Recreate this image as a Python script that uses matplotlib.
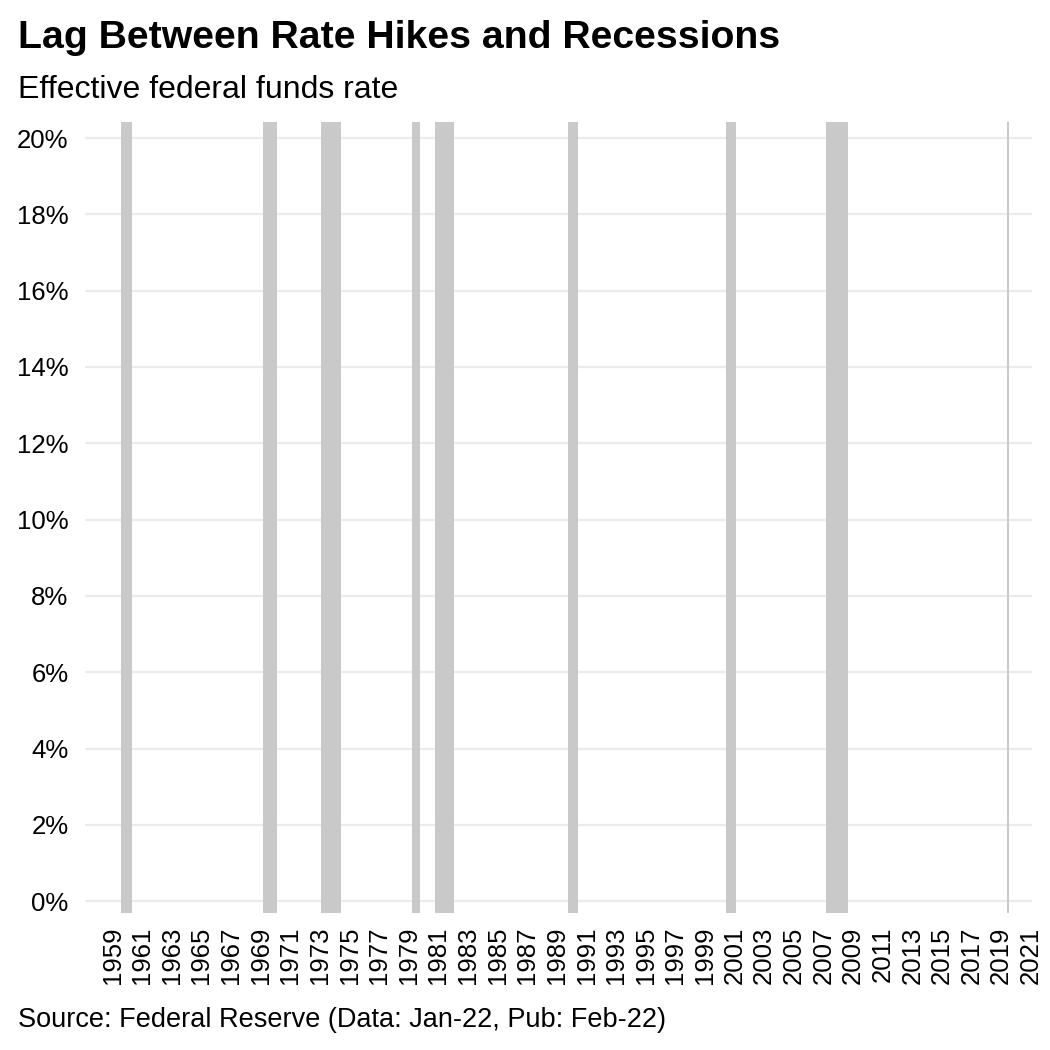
import matplotlib
matplotlib.use("Agg")
import matplotlib.pyplot as plt

plt.rcParams['font.family'] = ['Liberation Sans', 'DejaVu Sans']

# Recession periods (decimal years, NBER dates)
rec_start = [1960.29, 1969.92, 1973.83, 1980.00, 1981.50, 1990.50, 2001.17, 2007.92, 2020.17]
rec_end   = [1961.08, 1970.83, 1975.17, 1980.50, 1982.83, 1991.17, 2001.83, 2009.42, 2020.25]

tick_years = list(range(1959, 2022, 2))
y_ticks = [0, 2, 4, 6, 8, 10, 12, 14, 16, 18, 20]

fig = plt.figure(figsize=(10.5, 10.5), dpi=100)
ax = fig.add_axes([0.081, 0.1305, 0.902, 0.7533])

for s, e in zip(rec_start, rec_end):
    ax.axvspan(s, e, color='#c9c9c9', lw=0, zorder=1)

ax.set_xlim(1957.89, 2021.84)
ax.set_ylim(-0.31, 20.42)

ax.set_yticks(y_ticks)
ax.set_yticklabels([f"{v}%" for v in y_ticks])
ax.set_xticks([y + 0.75 for y in tick_years])
ax.set_xticklabels([str(y) for y in tick_years], rotation=90)

ax.grid(axis='y', color='#ebebeb', lw=1.6, zorder=0)
ax.grid(axis='x', visible=False)
ax.set_axisbelow(True)
for sp in ax.spines.values():
    sp.set_visible(False)
ax.tick_params(axis='both', length=0, labelsize=18.5, colors='black')
ax.tick_params(axis='y', pad=12)
ax.tick_params(axis='x', pad=10)

fig.text(0.017, 0.9543, "Lag Between Rate Hikes and Recessions", fontsize=28.3,
         fontweight='bold', ha='left', va='baseline')
fig.text(0.017, 0.9067, "Effective federal funds rate", fontsize=23,
         ha='left', va='baseline')
fig.text(0.017, 0.0219, "Source: Federal Reserve (Data: Jan-22, Pub: Feb-22)", fontsize=19.5,
         ha='left', va='baseline')

fig.savefig("out.png", dpi=100, facecolor='white')
